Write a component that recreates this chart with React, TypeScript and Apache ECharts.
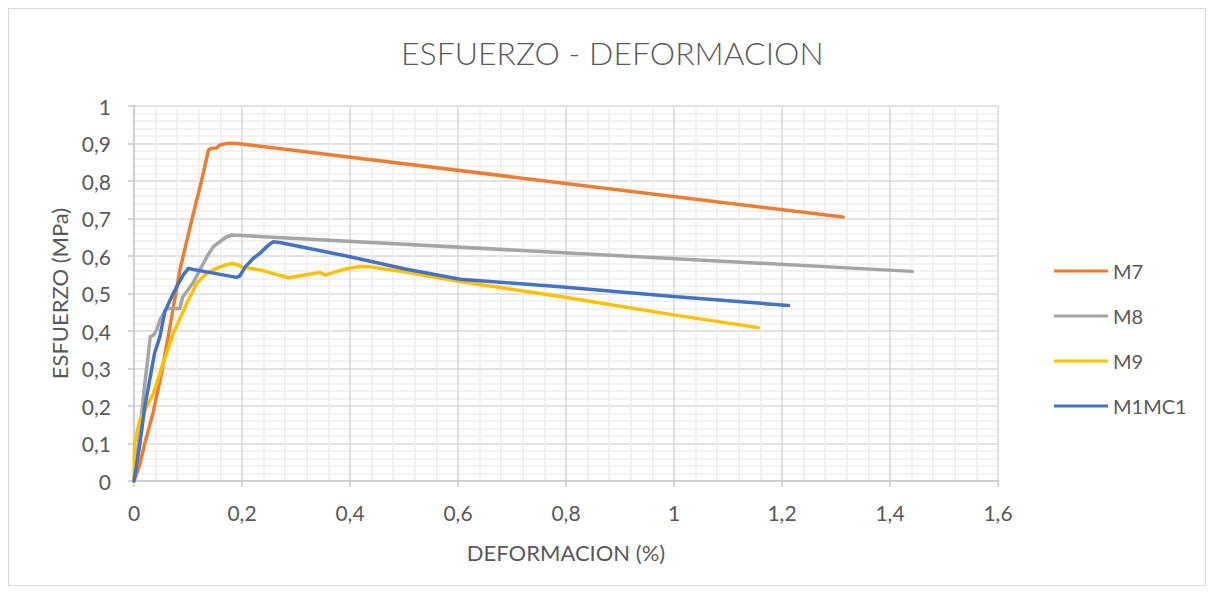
import React, { useEffect, useRef } from "react";
import * as echarts from "echarts";

const seriesNames = ["M7", "M8", "M9", "M1MC1"];
const seriesColors = ["#ED7D31", "#A5A5A5", "#FFC000", "#4472C4"];

const m7X = [0, 0.01, 0.02, 0.035, 0.051, 0.064, 0.085, 0.107, 0.125, 0.138, 0.144, 0.153, 0.159, 0.175, 0.19, 1.313];
const m7Y = [0, 0.04, 0.1, 0.18, 0.287, 0.39, 0.563, 0.696, 0.8, 0.883, 0.887, 0.888, 0.896, 0.901, 0.9, 0.704];

const m8X = [0, 0.01, 0.02, 0.026, 0.03, 0.036, 0.042, 0.048, 0.06, 0.07, 0.085, 0.09, 0.11, 0.122, 0.135, 0.147, 0.159, 0.17, 0.181, 1.441];
const m8Y = [0, 0.12, 0.26, 0.33, 0.385, 0.389, 0.403, 0.43, 0.46, 0.46, 0.46, 0.49, 0.53, 0.563, 0.598, 0.625, 0.638, 0.65, 0.656, 0.559];

const m9X = [0, 0.001, 0.011, 0.036, 0.054, 0.073, 0.098, 0.116, 0.135, 0.159, 0.17, 0.181, 0.193, 0.199, 0.233, 0.286, 0.344, 0.354, 0.39, 0.419, 0.437, 0.5, 0.604, 0.789, 0.999, 1.156];
const m9Y = [0, 0.1, 0.163, 0.234, 0.314, 0.394, 0.474, 0.527, 0.554, 0.571, 0.576, 0.58, 0.576, 0.571, 0.563, 0.542, 0.556, 0.549, 0.565, 0.572, 0.571, 0.558, 0.532, 0.492, 0.443, 0.409];

const m1X = [0, 0.011, 0.02, 0.029, 0.038, 0.048, 0.057, 0.067, 0.079, 0.091, 0.101, 0.11, 0.19, 0.196, 0.206, 0.221, 0.233, 0.249, 0.258, 0.27, 0.4, 0.5, 0.604, 0.789, 0.999, 1.212];
const m1Y = [0, 0.1, 0.198, 0.269, 0.34, 0.385, 0.451, 0.483, 0.518, 0.549, 0.567, 0.564, 0.543, 0.547, 0.571, 0.594, 0.607, 0.629, 0.638, 0.636, 0.598, 0.566, 0.538, 0.518, 0.492, 0.468];

const seriesX = [m7X, m8X, m9X, m1X];
const seriesY = [m7Y, m8Y, m9Y, m1Y];

const fmt = (v: number) => String(+v.toFixed(2)).replace(".", ",");

export default function App() {
  const ref = useRef<HTMLDivElement>(null);
  useEffect(() => {
    if (!ref.current) return;
    const chart = echarts.init(ref.current, undefined, { renderer: "svg" });
    const font = "Lato, 'Open Sans', sans-serif";
    chart.setOption({
      animation: false,
      backgroundColor: "#ffffff",
      textStyle: { fontFamily: font },
      title: {
        text: "ESFUERZO - DEFORMACION",
        left: 387,
        top: 22,
        textStyle: { fontFamily: font, fontSize: 32, fontWeight: 300, color: "#595959" },
      },
      legend: {
        orient: "vertical",
        left: 1040,
        top: 247,
        itemWidth: 54,
        itemHeight: 3,
        itemGap: 25,
        icon: "rect",
        textStyle: { fontFamily: font, fontSize: 20, color: "#595959" },
        data: seriesNames,
      },
      grid: { left: 125, top: 97, width: 864, height: 375, containLabel: false },
      xAxis: {
        type: "value",
        min: 0,
        max: 1.6,
        interval: 0.2,
        name: "DEFORMACION (%)",
        nameLocation: "middle",
        nameGap: 60,
        nameTextStyle: { fontFamily: font, fontSize: 22, color: "#595959" },
        axisLine: { show: true, lineStyle: { color: "#c8c8c8", width: 1.5 } },
        axisTick: { show: true, length: 6, lineStyle: { color: "#c8c8c8", width: 1.5 } },
        axisLabel: { formatter: fmt, fontFamily: font, fontSize: 21, color: "#595959", margin: 21 },
        splitLine: { show: true, lineStyle: { color: "#d9d9d9", width: 1.5 } },
        minorTick: { show: false, splitNumber: 5 },
        minorSplitLine: { show: true, lineStyle: { color: "#eeeeee", width: 1.5 } },
      },
      yAxis: {
        type: "value",
        min: 0,
        max: 1,
        interval: 0.1,
        name: "ESFUERZO (MPa)",
        nameLocation: "middle",
        nameGap: 56,
        nameRotate: 90,
        nameTextStyle: { fontFamily: font, fontSize: 22, color: "#595959" },
        axisLine: { show: true, lineStyle: { color: "#c8c8c8", width: 1.5 } },
        axisTick: { show: true, length: 6, lineStyle: { color: "#c8c8c8", width: 1.5 } },
        axisLabel: { formatter: fmt, fontFamily: font, fontSize: 21, color: "#595959", margin: 23 },
        splitLine: { show: true, lineStyle: { color: "#d9d9d9", width: 1.5 } },
        minorTick: { show: false, splitNumber: 5 },
        minorSplitLine: { show: true, lineStyle: { color: "#eeeeee", width: 1.5 } },
      },
      series: seriesNames.map((name, i) => ({
        name,
        type: "line",
        showSymbol: false,
        symbol: "none",
        smooth: false,
        color: seriesColors[i],
        lineStyle: { color: seriesColors[i], width: 3.5, cap: "round", join: "round" },
        data: seriesX[i].map((x, j) => [x, seriesY[i][j]]),
      })),
    });
    return () => chart.dispose();
  }, []);
  return (
    <div
      ref={ref}
      style={{ width: 1198, height: 578, border: "1px solid #d9d9d9", boxSizing: "border-box" }}
    />
  );
}
